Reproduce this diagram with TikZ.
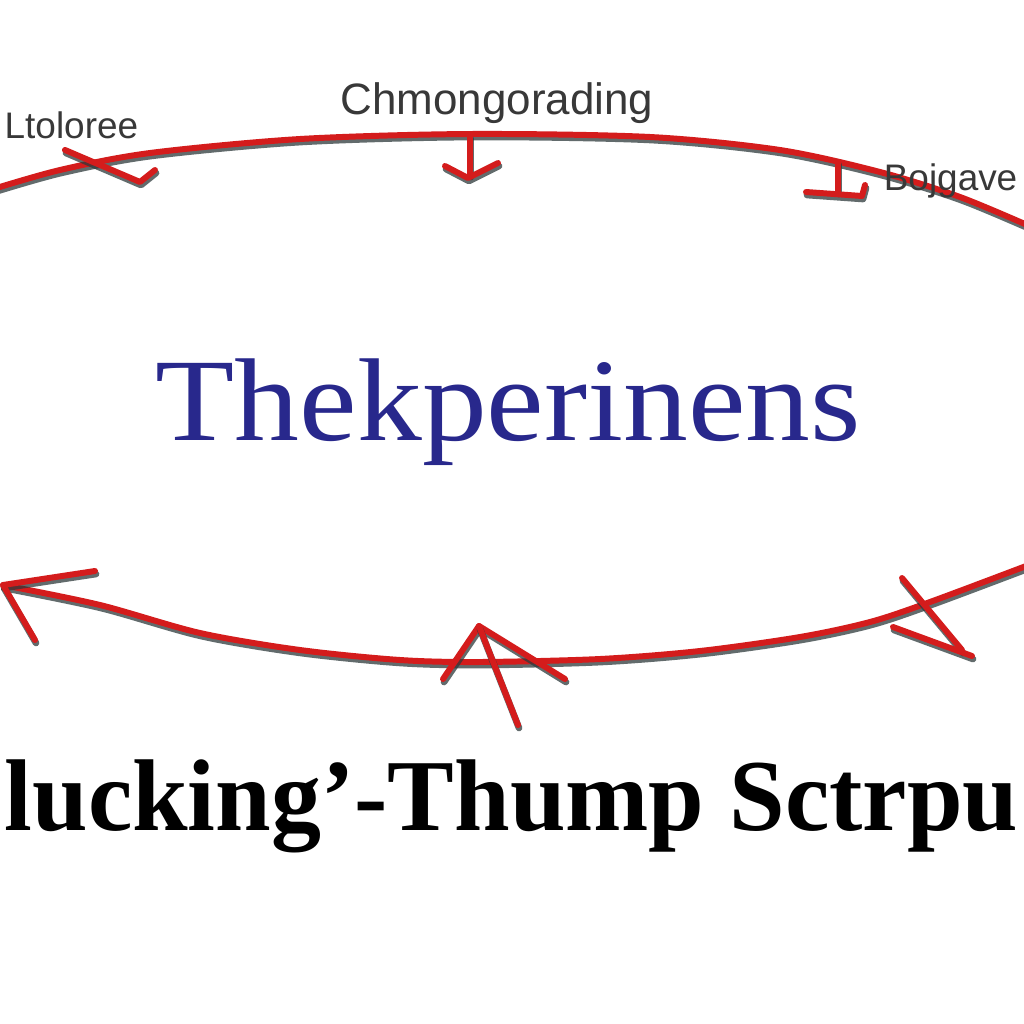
\documentclass[tikz,border=0pt]{standalone}
\usepackage{fontspec}
\setmainfont{Liberation Serif}
\newfontfamily\labfont{Liberation Sans}
\definecolor{ropered}{HTML}{D41C1C}
\definecolor{ropeshadow}{HTML}{2E3A3C}
\definecolor{titleblue}{HTML}{28288C}
\definecolor{labelgray}{HTML}{383838}
\tikzset{
  redline/.style={draw=ropered, line width=1.7pt, line cap=round, line join=round},
  shadowline/.style={draw=ropeshadow, line width=1.9pt, line cap=round, line join=round, shift={(1,3)}, opacity=0.75},
  labeltext/.style={inner sep=0pt, text=labelgray, font=\labfont\fontsize{10.5}{13}\selectfont},
  titletext/.style={inner sep=0pt, text=titleblue, font=\fontsize{33.5}{40}\selectfont, xscale=1.1},
  bottomtext/.style={inner sep=0pt, text=black, font=\bfseries\fontsize{29}{34}\selectfont, xscale=0.98}
}
\newcommand\ropepath[1]{\draw[shadowline] #1; \draw[redline] #1;}
\begin{document}
\begin{tikzpicture}[x=0.01cm,y=-0.01cm]
\useasboundingbox (0,0) rectangle (1024,1024);
\clip (0,0) rectangle (1024,1024);
\fill[white] (0,0) rectangle (1024,1024);

% top arc
\ropepath{plot[smooth] coordinates {(-10,190) (60,170) (150,153) (300,139) (470,134) (650,137) (780,150) (880,172) (960,197) (1034,228)}}
% bottom arc
\ropepath{plot[smooth] coordinates {(3,585) (100,605) (200,633) (300,650) (400,660) (480,662) (600,659) (700,651) (800,637) (870,622) (930,602) (1034,563)}}

% top-left marker
\ropepath{(65,150) -- (140,182) -- (155,170)}
% top-middle marker
\ropepath{(470,136) -- (470,174)}
\ropepath{(445,166) -- (468,178) -- (498,163)}
% top-right marker
\ropepath{(838,162) -- (838,191)}
\ropepath{(806,192) -- (862,196) -- (865,185)}
% bottom-left arrow head
\ropepath{(95,571) -- (3,585) -- (35,640)}
% bottom-middle marker
\ropepath{(443,679) -- (479,626) -- (565,679)}
\ropepath{(479,626) -- (518,725)}
% bottom-right marker
\ropepath{(902,578) -- (962,650)}
\ropepath{(893,627) -- (972,656)}

% labels
\node[labeltext, anchor=base west] (lt) at (4,138) {Ltoloree};
\node[labeltext, anchor=base west, font=\labfont\fontsize{12.5}{15}\selectfont] (ch) at (340,114) {Chmongorading};
\node[labeltext, anchor=base east] (bj) at (1018,190) {Bojgave};
\node[titletext, anchor=base west] (tk) at (155,440) {Thekperinens};
\node[bottomtext, anchor=base west] (lk) at (4,830) {lucking’-Thump Sctrpu};
\end{tikzpicture}
\end{document}
